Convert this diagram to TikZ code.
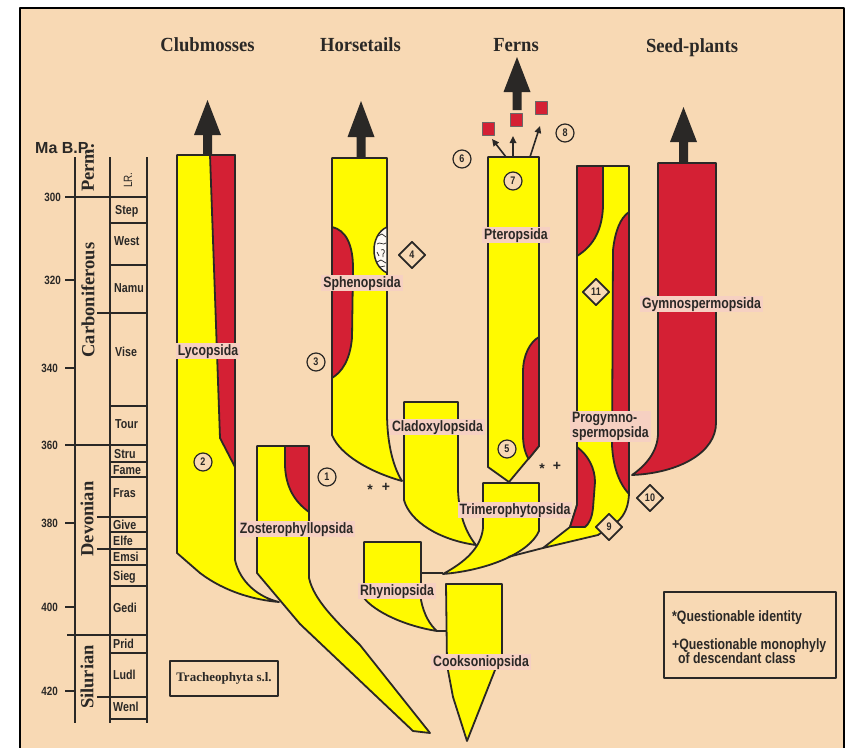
\documentclass[tikz,border=0pt]{standalone}
\usepackage{fontspec}
\setmainfont{Liberation Serif}
\newfontfamily\nb{Liberation Sans}[FakeStretch=0.82]
\newfontfamily\sansr{Liberation Sans}
\newfontfamily\hdf{Liberation Serif}[FakeStretch=0.93]
\usetikzlibrary{shapes.geometric,arrows.meta}
\definecolor{pagebg}{RGB}{248,217,180}
\definecolor{yel}{RGB}{255,250,0}
\definecolor{redc}{RGB}{212,32,52}
\definecolor{ink}{RGB}{42,40,38}
\definecolor{labbg}{RGB}{246,208,194}
\newcommand\bigarr[4]{%
  \fill[ink] (#1,#2) -- (#1+13.5,#3) -- (#1+4.5,#3) -- (#1+4.5,#4) -- (#1-4.5,#4) -- (#1-4.5,#3) -- (#1-13.5,#3) -- cycle;}
\begin{document}
\begin{tikzpicture}[x=1pt,y=-1pt,line join=round,
 yshape/.style={fill=yel,draw=ink,line width=1.8pt},
 rshape/.style={fill=redc,draw=ink,line width=1.8pt},
 lab/.style={fill=labbg,inner xsep=2pt,inner ysep=1.2pt,text=ink,font=\nb\bfseries\fontsize{15}{15}\selectfont,text height=11pt,text depth=3pt},
 num/.style={circle,draw=ink,line width=1.2pt,fill=pagebg,inner sep=0pt,minimum size=18pt,text=ink,font=\nb\bfseries\fontsize{11}{11}\selectfont},
 dia/.style={diamond,draw=ink,line width=1.8pt,fill=pagebg,inner sep=0pt,minimum width=27pt,minimum height=27pt,text=ink,font=\nb\bfseries\fontsize{11}{11}\selectfont},
 stg/.style={anchor=west,text=ink,font=\nb\bfseries\fontsize{13}{13}\selectfont,text height=9.3pt,text depth=0pt,inner sep=0pt},
 maf/.style={anchor=east,text=ink,font=\nb\bfseries\fontsize{12}{12}\selectfont,inner sep=0pt},
 per/.style={rotate=90,text=ink,font=\bfseries\fontsize{18.5}{18.5}\selectfont,inner sep=0pt},
 head/.style={anchor=base,text=ink,font=\hdf\bfseries\fontsize{20}{20}\selectfont},
 scl/.style={draw=ink,line width=1.8pt},
 leg/.style={anchor=base west,text=ink,inner sep=0pt,font=\nb\bfseries\fontsize{15}{15}\selectfont},
 sym/.style={text=ink,inner sep=0pt,font=\sansr\bfseries\fontsize{14}{14}\selectfont},
 sarr/.style={draw=ink,line width=1.6pt,-{Triangle[length=7pt,width=6.5pt]}}
]
\useasboundingbox (0,0) rectangle (848,747);
\fill[white] (0,0) rectangle (848,747);
\filldraw[fill=pagebg,draw=black,line width=2.5pt] (20,8) rectangle (844,775);

% ---------- time scale ----------
\draw[scl] (75,157) -- (75,723);
\draw[scl] (110,157) -- (110,723);
\draw[scl] (147,157) -- (147,723);
\foreach \yy in {280,368,523,607,691} \draw[scl] (65,\yy) -- (75,\yy);
\draw[scl] (65,197) -- (147,197);
\draw[scl] (65,445) -- (147,445);
\draw[scl] (67,635) -- (147,635);
\foreach \yy in {313,517,549,697} \draw[scl] (97,\yy) -- (147,\yy);
\foreach \yy in {223,265,406,462,477,532,565,586,653,719} \draw[scl] (110,\yy) -- (147,\yy);

\node[anchor=base west,text=ink,inner sep=0pt,font=\sansr\bfseries\fontsize{16}{16}\selectfont] (mabp) at (35,153) {Ma B.P.};
\node[maf] (m300) at (61,197) {300};
\node[maf] (m320) at (61,280) {320};
\node[maf] (m340) at (58,368) {340};
\node[maf] (m360) at (58,445) {360};
\node[maf] (m380) at (58,523) {380};
\node[maf] (m400) at (58,607) {400};
\node[maf] (m420) at (58,691) {420};

\node[per] (perm) at (88,168) {Perm.};
\node[per] (carb) at (88,300) {Carboniferous};
\node[per] (devo) at (87,519) {Devonian};
\node[per] (silu) at (87,677) {Silurian};
\node[rotate=90,text=ink,inner sep=0pt,font=\nb\fontsize{12}{12}\selectfont] (lr) at (128,180) {LR.};

\node[stg] (s1) at (115,210) {Step};
\node[stg] (s2) at (114,241) {West};
\node[stg] (s3) at (114,288) {Namu};
\node[stg] (s4) at (115,352) {Vise};
\node[stg] (s5) at (115,424) {Tour};
\node[stg] (s6) at (114,454) {Stru};
\node[stg] (s7) at (113,469.5) {Fame};
\node[stg] (s8) at (113,493) {Fras};
\node[stg] (s9) at (113,525) {Give};
\node[stg] (s10) at (113,540.5) {Elfe};
\node[stg] (s11) at (113,557) {Emsi};
\node[stg] (s12) at (113,576) {Sieg};
\node[stg] (s13) at (113,608) {Gedi};
\node[stg] (s14) at (113,644) {Prid};
\node[stg] (s15) at (113,675) {Ludl};
\node[stg] (s16) at (113,707) {Wenl};

% ---------- headings ----------
\node[head] (hclub) at (207.5,51) {Clubmosses};
\node[head] (hhorse) at (360.5,51) {Horsetails};
\node[head] (hfern) at (516,51) {Ferns};
\node[head] (hseed) at (692,52) {Seed-plants};

% ---------- big arrows ----------
\bigarr{207.5}{100}{135}{156}
\bigarr{361}{101}{137}{159}
\bigarr{517}{57}{92}{110}
\bigarr{683.5}{107}{142}{163}

% ---------- Lycopsida ----------
\path[yshape] (177,155) -- (235,155) -- (235,560) .. controls (240,582) and (258,597) .. (279,602)
  .. controls (255,600) and (225,592) .. (200,573) -- (177,553) -- cycle;
\path[rshape] (210,155) -- (235,155) -- (235,467) -- (220,438) -- cycle;

% ---------- Zosterophyllopsida ----------
\path[yshape] (257,446) -- (309,446) -- (309,578) .. controls (314,600) and (335,620) .. (360,645)
  -- (430,733) -- (413,731) -- (300,624) -- (257,573) -- cycle;
\path[rshape] (285,446) -- (309,446) -- (309,512) .. controls (295,502) and (286,488) .. (285,466) -- cycle;

% ---------- Sphenopsida ----------
\path[yshape] (332,158) -- (387,158) -- (387,413) .. controls (387,440) and (392,465) .. (402,481)
  .. controls (370,472) and (340,455) .. (332,435) -- cycle;
\path[rshape] (332,227) .. controls (346,230) and (353,245) .. (353,268) -- (352,338)
  .. controls (350,360) and (342,372) .. (332,378) -- cycle;
\filldraw[fill=white!85!pagebg,draw=ink,line width=1.5pt] (387,227) .. controls (378,231) and (374,241) .. (374,250)
  .. controls (374,261) and (379,269) .. (387,273) -- cycle;
\begin{scope}[draw=ink,line width=0.7pt]
\draw (378,236) -- (382,234) -- (386,237);
\draw (377,244) .. controls (380,241) and (383,246) .. (386,243);
\draw (381,250) .. controls (384,248) and (386,252) .. (383,254) -- (383,257);
\draw (377,252) -- (379,256);
\draw (377,262) -- (381,260) -- (386,263);
\draw (380,267) -- (385,266);
\end{scope}

% ---------- Cladoxylopsida ----------
\path[yshape] (404,402) -- (458,402) -- (458,490) .. controls (459,515) and (466,533) .. (476,545)
  .. controls (440,540) and (410,522) .. (404,500) -- cycle;

% ---------- Pteropsida ----------
\path[yshape] (488,157) -- (539,157) -- (539,446) -- (509,482) -- (488,467) -- cycle;
\path[rshape] (539,337) .. controls (530,342) and (523,355) .. (523,372) -- (523,435)
  .. controls (523,448) and (526,454) .. (528.5,459) -- (539,446) -- cycle;

% ---------- Trimerophytopsida ----------
\path[yshape] (483,483) -- (539,483) -- (539,531) .. controls (530,552) and (490,570) .. (443,574)
  .. controls (465,562) and (481,548) .. (483,528) -- cycle;

% ---------- Rhyniopsida ----------
\path[yshape] (364,542) -- (421,542) -- (421,600) .. controls (424,615) and (430,625) .. (437,631)
  .. controls (405,626) and (375,612) .. (364,598) -- cycle;
\coordinate (rhyR) at (421,573);
\coordinate (triTip) at (443,573);
\coordinate (rhyTip) at (437,631);
\coordinate (cooL) at (446,631);
\draw[ink,line width=1.8pt] (rhyR) -- (triTip);
\draw[ink,line width=1.8pt] (rhyTip) -- (cooL);

% ---------- Cooksoniopsida ----------
\path[yshape] (446,584) -- (502,584) -- (502,655) -- (495,670) -- (467,741) -- (453,697) -- (447,665) -- cycle;

% ---------- Progymnospermopsida ----------
\path[yshape] (577,166) -- (629,166) -- (629,492) .. controls (629,505) and (625,515) .. (618,521)
  -- (598,535) -- (543,548) -- (570,527) -- (577,505) -- cycle;
\coordinate (pgA) at (543,548);
\coordinate (pgB) at (508,557);
\draw[ink,line width=1.8pt] (pgA) -- (pgB);
\path[rshape] (577,166) -- (603,166) -- (603,207) .. controls (602,228) and (595,245) .. (577,256) -- cycle;
\path[rshape] (629,212) .. controls (620,218) and (615,232) .. (613,250) -- (612,445)
  .. controls (613,465) and (618,482) .. (629,494) -- cycle;
\path[rshape] (577,447) .. controls (588,455) and (595,468) .. (595,482) -- (593,508)
  .. controls (592,518) and (589,524) .. (585,527) -- (570,527) -- (577,505) -- cycle;

% ---------- Gymnospermopsida ----------
\path[rshape] (658,163) -- (716,163) -- (716,423) .. controls (716,452) and (680,473) .. (632,475)
  .. controls (645,466) and (658,452) .. (658,433) -- cycle;

% ---------- fern top: small arrows and squares ----------
\draw[sarr] (506,157) -- (492,139);
\draw[sarr] (513,157) -- (513,136);
\draw[sarr] (530,157) -- (540,126);
\filldraw[fill=redc,draw=ink!70,line width=0.6pt] (482,122) rectangle (494,135);
\filldraw[fill=redc,draw=ink!70,line width=0.6pt] (510,113) rectangle (522,126);
\filldraw[fill=redc,draw=ink!70,line width=0.6pt] (535,101) rectangle (547,114);

% ---------- labels ----------
\node[lab] (lyco) at (208,351) {Lycopsida};
\node[lab] (zost) at (296.5,529) {Zosterophyllopsida};
\node[lab] (sphe) at (362,283) {Sphenopsida};
\node[lab] (pter) at (516,235) {Pteropsida};
\node[lab] (clad) at (437.5,427) {Cladoxylopsida};
\node[lab] (trim) at (515,510) {Trimerophytopsida};
\node[lab] (rhyn) at (397,591) {Rhyniopsida};
\node[lab] (cook) at (481,662) {Cooksoniopsida};
\node[lab] (gymn) at (701.5,304) {Gymnospermopsida};
\node[lab,text height=,text depth=,align=left,anchor=north west,font=\nb\bfseries\fontsize{15}{11.5}\selectfont] (prog) at (570,410.5) {Progymno-\\spermopsida};

% ---------- numbered circles and diamonds ----------
\node[num] (c1) at (327,477) {1};
\node[num] (c2) at (203,462) {2};
\node[num] (c3) at (316,362) {3};
\node[num] (c5) at (507,449) {5};
\node[num] (c6) at (462,159) {6};
\node[num] (c7) at (513,181) {7};
\node[num] (c8) at (565,133) {8};
\node[dia] (d4) at (412,255) {4};
\node[dia] (d9) at (609,527) {9};
\node[dia] (d10) at (650,498) {10};
\node[dia] (d11) at (596,292) {11};

% ---------- question marks ----------
\node[sym] (st1) at (370,490) {*};
\node[sym] (pl1) at (386,487) {+};
\node[sym] (st2) at (542,469) {*};
\node[sym] (pl2) at (557,466) {+};

% ---------- boxes ----------
\node[draw=ink,line width=1.8pt,minimum width=108pt,minimum height=35pt,inner sep=0pt,text=ink,
  font=\bfseries\fontsize{13}{13}\selectfont] (trach) at (224,678.5) {Tracheophyta s.l.};
\node[draw=ink,line width=1.8pt,minimum width=172pt,minimum height=86pt,inner sep=0pt] (legbox) at (750,635) {};
\node[leg] (leg1) at (672,621) {*Questionable identity};
\node[leg] (leg2) at (672,649) {+Questionable monophyly};
\node[leg] (leg3) at (678,663) {of descendant class};
\end{tikzpicture}
\end{document}
